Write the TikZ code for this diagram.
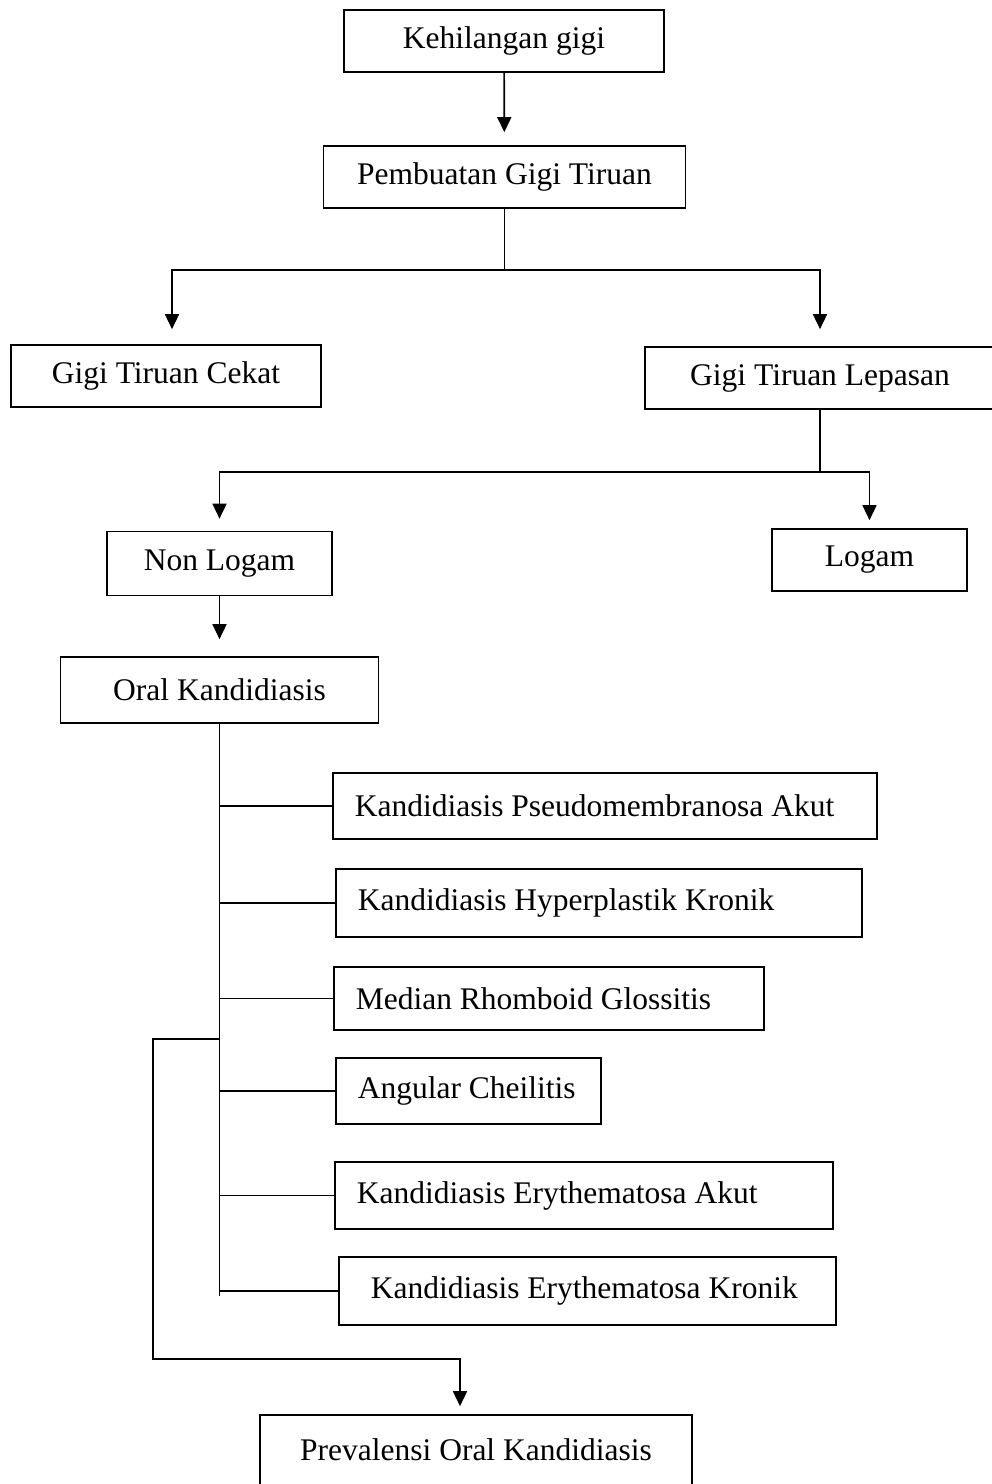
\documentclass[tikz,border=0pt]{standalone}
\usepackage{fontspec}
\setmainfont{Liberation Serif}
\usetikzlibrary{arrows.meta,calc}

\begin{document}
\begin{tikzpicture}[
  x=1pt, y=-1pt,
  box/.style={draw, line width=1.7pt, inner sep=0pt, minimum height=62pt,
              font=\fontsize{31.5}{37}\selectfont},
  sub/.style={box, anchor=west, align=flush left, inner xsep=22pt, inner ysep=0pt},
  line/.style={line width=1.7pt},
  arr/.style={line, -{Triangle[length=15pt, width=14pt]}},
]
\useasboundingbox (0,0) rectangle (992,1484);

%% ---- Baris atas ----
\node[box, minimum width=320pt] at (504, 41)  (kehilangan) {Kehilangan gigi};
\node[box, minimum width=362pt] at (504.5,177) (pembuatan)  {Pembuatan Gigi Tiruan};

\node[box, minimum width=310pt] at (166, 376)   (cekat)   {Gigi Tiruan Cekat};
\node[box, minimum width=350pt] at (820, 378)   (lepasan) {Gigi Tiruan Lepasan};

\node[box, minimum width=225pt, minimum height=64pt] at (219.5,563.5) (nonlogam) {Non Logam};
\node[box, minimum width=195pt] at (869.5,560)  (logam)   {Logam};

\node[box, minimum width=318pt, minimum height=66pt] at (219.5,690) (oral) {Oral Kandidiasis};

%% ---- Jenis kandidiasis (teks rata kiri) ----
\node[sub, text width=500pt, minimum height=66pt] at (332, 806)    (k1) {Kandidiasis Pseudomembranosa Akut};
\node[sub, text width=482pt, minimum height=68pt] at (335, 903)    (k2) {Kandidiasis Hyperplastik Kronik};
\node[sub, text width=386pt, minimum height=63pt] at (333, 998.5)  (k3) {Median Rhomboid Glossitis};
\node[sub, text width=221pt, minimum height=66pt] at (335, 1091)   (k4) {Angular Cheilitis};
\node[sub, text width=454pt, minimum height=67pt] at (334, 1195.5) (k5) {Kandidiasis Erythematosa Akut};
\node[sub, text width=433pt, minimum height=68pt, inner xsep=32pt] at (338, 1291) (k6) {Kandidiasis Erythematosa Kronik};

\node[box, minimum width=432pt, minimum height=70pt] at (476, 1450) (prevalensi) {Prevalensi Oral Kandidiasis};

%% ---- Titik cabang ----
\coordinate (cabang1) at (504.5, 270);
\coordinate (cabang2) at (820, 472);
\coordinate (ujung)   at (219.5, 1296);
\coordinate (tap)     at (219.5, 1039);
\coordinate (kiri)    at (153, 1359);

%% ---- Panah ----
\draw[arr, shorten >=13pt] (kehilangan) -- (pembuatan);

\draw[line] (pembuatan.south) -- (cabang1);
\draw[arr, shorten >=15pt] (cabang1) -| ([xshift=6pt]cekat.north);
\draw[arr, shorten >=17pt] (cabang1) -| (lepasan.north);

\draw[line] (lepasan.south) -- (cabang2);
\draw[arr, shorten >=12pt] (cabang2) -| (nonlogam.north);
\draw[arr, shorten >=8pt]  (cabang2) -| (logam.north);

\draw[arr, shorten >=17pt] (nonlogam) -- (oral);

%% ---- Batang utama dan cabang ----
\draw[line] (oral.south) -- (ujung);
\foreach \k in {k1,k2,k3,k4,k5,k6}
  \draw[line] (oral.south |- \k.west) -- (\k.west);

\draw[arr, shorten >=8pt] (tap) -| (kiri) -| ([xshift=-16pt]prevalensi.north);

\end{tikzpicture}
\end{document}
